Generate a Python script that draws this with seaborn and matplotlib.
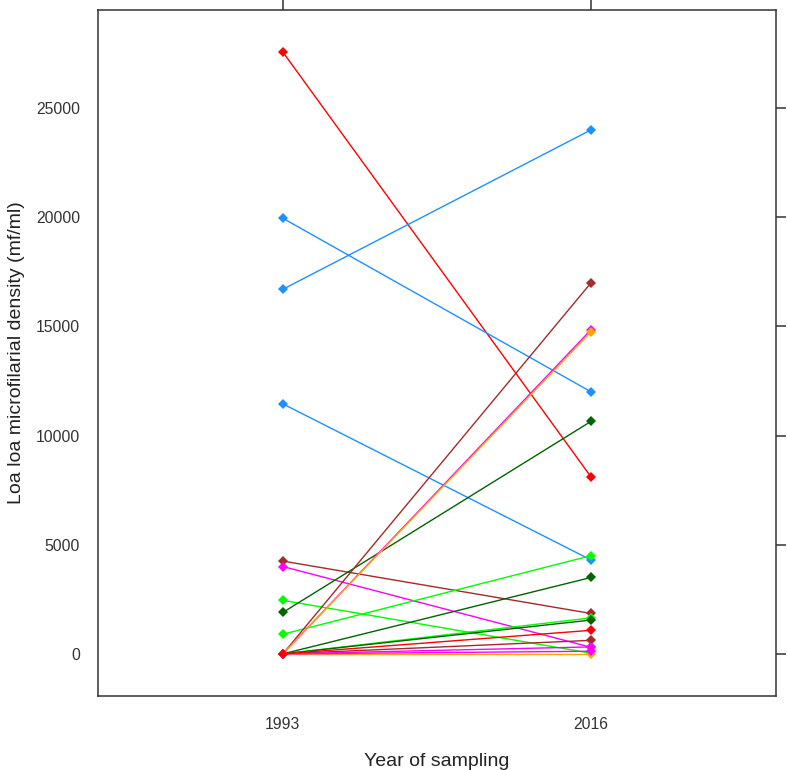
import matplotlib
matplotlib.use('Agg')
import matplotlib.pyplot as plt
import seaborn as sns
import pandas as pd

years = ['1993', '2016']
subjects = ['S%02d' % i for i in range(1, 21)]
mf_1993 = [27560, 19950, 16700, 11450, 4250, 4000, 2450, 1900, 900,
           0, 0, 0, 0, 0, 0, 0, 0, 0, 0, 0]
mf_2016 = [8100, 12000, 24000, 4300, 1850, 300, 30, 10650, 4500,
           17000, 14850, 14750, 1650, 3500, 1550, 620, 320, 0, 120, 1080]
line_colors = ['#FF0000', '#1E90FF', '#1E90FF', '#1E90FF', '#A52A2A',
               '#FF00FF', '#00FF00', '#006400', '#00FF00', '#A52A2A',
               '#FF00FF', '#FFA500', '#00FF00', '#006400', '#006400',
               '#A52A2A', '#FF00FF', '#FFA500', '#FF00FF', '#FF0000']

rows = []
for s, a, b in zip(subjects, mf_1993, mf_2016):
    rows.append({'subject': s, 'year': years[0], 'density': a})
    rows.append({'subject': s, 'year': years[1], 'density': b})
df = pd.DataFrame(rows)

sns.set_style('white')
plt.rcParams['font.family'] = ['Liberation Sans', 'DejaVu Sans']

fig = plt.figure(figsize=(7.87, 7.70), dpi=100)
ax = fig.add_axes([98 / 787, 74 / 770, 678 / 787, 686 / 770])

sns.lineplot(data=df, x='year', y='density', hue='subject', hue_order=subjects,
             palette=line_colors, marker='D', markersize=5, markeredgewidth=0,
             linewidth=1, estimator=None, sort=False, legend=False, ax=ax)

ax.set_xlim(-0.6, 1.6)
ax.set_ylim(-1929, 29489)
ax.set_xticks([0, 1])
ax.set_xticklabels(years)
ax.set_yticks([0, 5000, 10000, 15000, 20000, 25000])

frame = '#333333'
for sp in ax.spines.values():
    sp.set_color(frame)
    sp.set_linewidth(1.1)
ax.tick_params(top=True, right=True, labeltop=False, labelright=False,
               direction='out', length=7, width=1.1, color=frame,
               labelcolor='#333333', labelsize=11.3, pad=6)
ax.tick_params(axis='x', pad=8)

ax.set_xlabel('Year of sampling', fontsize=14, color='#222222', labelpad=15)
ax.set_ylabel('Loa loa microfilarial density (mf/ml)', fontsize=14,
              color='#222222', labelpad=8)
ax.grid(False)

plt.savefig('out.png', dpi=100)
plt.close()
